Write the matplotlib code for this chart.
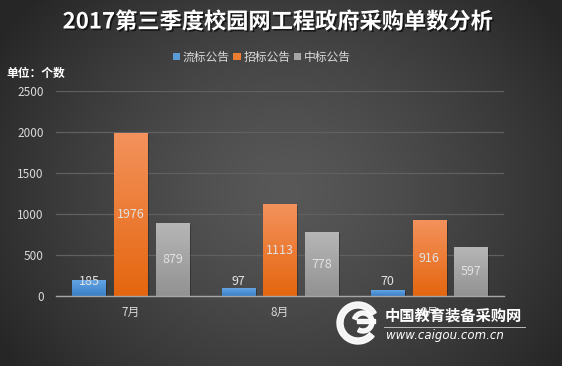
import matplotlib
matplotlib.use('Agg')
import matplotlib.pyplot as plt
import numpy as np
from matplotlib.patches import Patch, Rectangle, Wedge
from matplotlib.colors import LinearSegmentedColormap
import matplotlib.patheffects as pe

plt.rcParams['font.family'] = ['Noto Sans CJK SC', 'DejaVu Sans']

# ---- data ----
months = ['7月', '8月', '9月']
series_names = ['流标公告', '招标公告', '中标公告']
liubiao = [185, 97, 70]
zhaobiao = [1976, 1113, 916]
zhongbiao = [879, 778, 597]
yticks = [0, 500, 1000, 1500, 2000, 2500]
title = '2017第三季度校园网工程政府采购单数分析'
unit_label = '单位：个数'

series_values = [liubiao, zhaobiao, zhongbiao]
top_colors = ['#63a4e4', '#f3925c', '#b6b6b6']
bot_colors = ['#3a7fc6', '#e5660f', '#929292']
legend_colors = ['#5b9bd5', '#ed7d31', '#a5a5a5']

W, H = 562, 366
fig = plt.figure(figsize=(W / 100, H / 100), dpi=100)

# ---- background radial gradient ----
bg = fig.add_axes([0, 0, 1, 1], zorder=-10)
yy, xx = np.mgrid[0:H, 0:W]
r = np.sqrt(((xx - 285) / 340.0) ** 2 + ((yy - 190) / 290.0) ** 2)
t = np.clip(r, 0, 1) ** 1.3
c0 = np.array([0x58, 0x58, 0x58]) / 255.0
c1 = np.array([0x26, 0x26, 0x26]) / 255.0
img = c0[None, None, :] * (1 - t[..., None]) + c1[None, None, :] * t[..., None]
bg.imshow(img, extent=[0, 1, 0, 1], aspect='auto', origin='upper')
bg.set_xlim(0, 1)
bg.set_ylim(0, 1)
bg.axis('off')

# ---- main axes ----
ax = fig.add_axes([56 / W, 1 - 296 / H, (504 - 56) / W, (296 - 91) / H])
ax.set_facecolor('none')
x = np.arange(len(months))
bw = 0.222
offs = [-0.279, 0.0, 0.279]

for i, vals in enumerate(series_values):
    bars = ax.bar(x + offs[i], vals, width=bw, color=legend_colors[i], zorder=3)
    cmap = LinearSegmentedColormap.from_list('g%d' % i, [bot_colors[i], top_colors[i]])
    grad = np.linspace(1, 0, 100).reshape(-1, 1)
    for b, v in zip(bars, vals):
        x0, w, h = b.get_x(), b.get_width(), b.get_height()
        # shadow
        ax.add_patch(Rectangle((x0 + 0.012, 0), w, h - 12, color='black', alpha=0.25,
                               zorder=2, lw=0))
        ax.imshow(grad, extent=[x0, x0 + w, 0, h], aspect='auto', cmap=cmap,
                  zorder=3.5, vmin=0, vmax=1)
        ly = v / 2 if v / 2 > 180 else 180
        ax.text(x0 + w / 2, ly, str(v), ha='center', va='center', fontsize=9,
                color='#e2e2e2', zorder=5)

ax.set_xlim(-0.5, 2.5)
ax.set_ylim(0, 2500)
ax.set_yticks(yticks)
ax.set_yticklabels([str(v) for v in yticks])
ax.set_xticks(x)
ax.set_xticklabels(months)
ax.tick_params(axis='both', length=0, colors='#d9d9d9', labelsize=8.5)
ax.tick_params(axis='y', pad=9)
ax.tick_params(axis='x', pad=7)
ax.grid(axis='y', color='#606060', lw=0.9, zorder=0)
ax.set_axisbelow(True)
for s in ['top', 'right', 'left']:
    ax.spines[s].set_visible(False)
ax.spines['bottom'].set_color('#a6a6a6')
ax.spines['bottom'].set_linewidth(1.0)
ax.spines['bottom'].set_zorder(6)

# ---- title ----
fig.text(278 / W, 1 - 22 / H, title, ha='center', va='center', fontsize=16,
         fontweight='bold', color='white',
         path_effects=[pe.withSimplePatchShadow(offset=(1.2, -1.2), shadow_rgbFace='black', alpha=0.6)])

# ---- legend ----
handles = [Patch(facecolor=c, edgecolor='none') for c in legend_colors]
leg = fig.legend(handles, series_names, loc='center', bbox_to_anchor=(262 / W, 1 - 57 / H),
                 ncol=3, frameon=False, fontsize=8.5, handlelength=0.6, handleheight=0.6,
                 handletextpad=0.25, columnspacing=0.3, labelcolor='#d9d9d9')

# ---- unit label ----
fig.text(6 / W, 1 - 73 / H, unit_label, ha='left', va='center', fontsize=8.5,
         fontweight='bold', color='white')

# ---- watermark ----
wm = fig.add_axes([0, 0, 1, 1], zorder=20)
wm.set_xlim(0, W)
wm.set_ylim(H, 0)
wm.axis('off')
wm.add_patch(Wedge((358, 323), 21, 40, 330, width=6, color='white', alpha=0.95))
wm.add_patch(Wedge((363, 322), 11, 200, 120, width=4, color='white', alpha=0.95))
wm.add_patch(Rectangle((357, 319), 18, 4, color='white', alpha=0.95))
wm.text(385, 316, '中国教育装备采购网', ha='left', va='center', fontsize=11,
        fontweight='bold', color='white')
wm.plot([384, 525], [327, 327], color='#bbbbbb', lw=0.7)
wm.text(386, 336, 'www.caigou.com.cn', ha='left', va='center', fontsize=8.5,
        style='italic', color='white', family='DejaVu Sans')

fig.savefig('out.png', dpi=100)
